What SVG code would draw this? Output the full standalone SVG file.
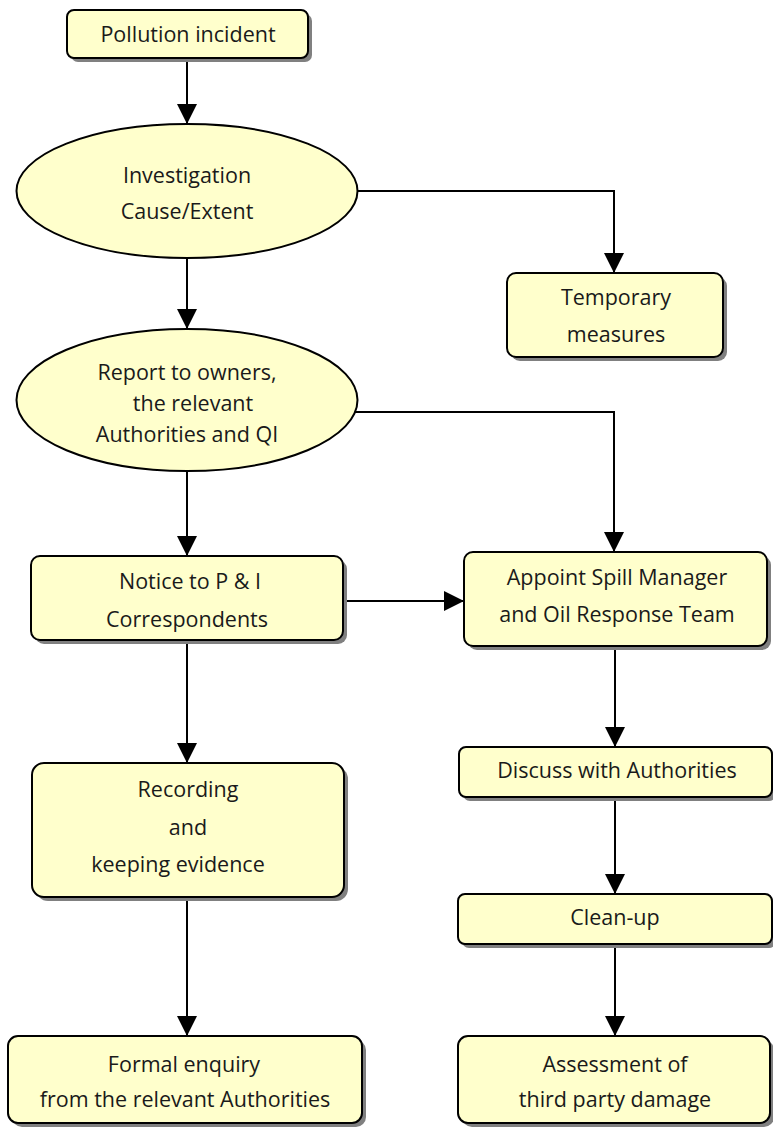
<svg xmlns="http://www.w3.org/2000/svg" width="773" height="1129" viewBox="0 0 773 1129">
  <defs>
    <marker id="arrow" markerUnits="userSpaceOnUse" markerWidth="20" markerHeight="20" refX="20" refY="10" orient="auto">
      <path d="M0,0 L20,10 L0,20 z" fill="#000"/>
    </marker>
  </defs>
  <style>
    .box { fill: #ffffcc; stroke: #000; stroke-width: 2; }
    .shadow { fill: #808080; }
    .oval { fill: #ffffcc; stroke: #000; stroke-width: 2; }
    .lbl { font-family: "Open Sans", "Noto Sans", "Liberation Sans", sans-serif; font-size: 21.5px; fill: #1a1a1a; text-anchor: middle; }
    .conn { fill: none; stroke: #000; stroke-width: 2; marker-end: url(#arrow); }
  </style>

  <rect width="773" height="1129" fill="#fff"/>

  <!-- connectors -->
  <g id="connectors">
    <path class="conn" d="M187,58 V124"/>
    <path class="conn" d="M357,191 H614 V273"/>
    <path class="conn" d="M187,258 V329"/>
    <path class="conn" d="M355,412 H614 V552"/>
    <path class="conn" d="M187,471 V556"/>
    <path class="conn" d="M343,601 H464"/>
    <path class="conn" d="M187,640 V763"/>
    <path class="conn" d="M187,897 V1036"/>
    <path class="conn" d="M615,646 V747"/>
    <path class="conn" d="M615,797 V894"/>
    <path class="conn" d="M615,944 V1036"/>
  </g>

  <g id="pollution-incident">
    <rect class="shadow" x="71" y="14" width="241" height="48" rx="7"/>
    <rect class="box" x="67" y="10" width="241" height="48" rx="7"/>
    <text class="lbl" x="188" y="42">Pollution incident</text>
  </g>

  <g id="investigation">
    <ellipse class="oval" cx="187" cy="191" rx="170.5" ry="67"/>
    <text class="lbl" x="187" y="183">Investigation</text>
    <text class="lbl" x="187" y="219">Cause/Extent</text>
  </g>

  <g id="temporary-measures">
    <rect class="shadow" x="511" y="277" width="216" height="84" rx="9"/>
    <rect class="box" x="507" y="273" width="216" height="84" rx="9"/>
    <text class="lbl" x="616" y="305">Temporary</text>
    <text class="lbl" x="616" y="342">measures</text>
  </g>

  <g id="report">
    <ellipse class="oval" cx="187" cy="400" rx="170.5" ry="71"/>
    <text class="lbl" x="187" y="380">Report to owners,</text>
    <text class="lbl" x="193" y="411">the relevant</text>
    <text class="lbl" x="187" y="442">Authorities and QI</text>
  </g>

  <g id="notice">
    <rect class="shadow" x="35" y="560" width="312" height="84" rx="9"/>
    <rect class="box" x="31" y="556" width="312" height="84" rx="9"/>
    <text class="lbl" x="190" y="589">Notice to P &amp; I</text>
    <text class="lbl" x="187" y="627">Correspondents</text>
  </g>

  <g id="appoint">
    <rect class="shadow" x="468" y="556" width="303" height="94" rx="9"/>
    <rect class="box" x="464" y="552" width="303" height="94" rx="9"/>
    <text class="lbl" x="617" y="585">Appoint Spill Manager</text>
    <text class="lbl" x="617" y="622">and Oil Response Team</text>
  </g>

  <g id="recording">
    <rect class="shadow" x="36" y="767" width="312" height="134" rx="12"/>
    <rect class="box" x="32" y="763" width="312" height="134" rx="12"/>
    <text class="lbl" x="188" y="797">Recording</text>
    <text class="lbl" x="188" y="835">and</text>
    <text class="lbl" x="178" y="872">keeping evidence</text>
  </g>

  <g id="discuss">
    <rect class="shadow" x="463" y="751" width="313" height="50" rx="7"/>
    <rect class="box" x="459" y="747" width="313" height="50" rx="7"/>
    <text class="lbl" x="617" y="778">Discuss with Authorities</text>
  </g>

  <g id="clean-up">
    <rect class="shadow" x="462" y="898" width="314" height="50" rx="7"/>
    <rect class="box" x="458" y="894" width="314" height="50" rx="7"/>
    <text class="lbl" x="615" y="925">Clean-up</text>
  </g>

  <g id="formal-enquiry">
    <rect class="shadow" x="12" y="1040" width="354" height="87" rx="10"/>
    <rect class="box" x="8" y="1036" width="354" height="87" rx="10"/>
    <text class="lbl" x="184" y="1072">Formal enquiry</text>
    <text class="lbl" x="185" y="1107">from the relevant Authorities</text>
  </g>

  <g id="assessment">
    <rect class="shadow" x="462" y="1040" width="312" height="87" rx="10"/>
    <rect class="box" x="458" y="1036" width="312" height="87" rx="10"/>
    <text class="lbl" x="615" y="1072">Assessment of</text>
    <text class="lbl" x="615" y="1107">third party damage</text>
  </g>
</svg>
